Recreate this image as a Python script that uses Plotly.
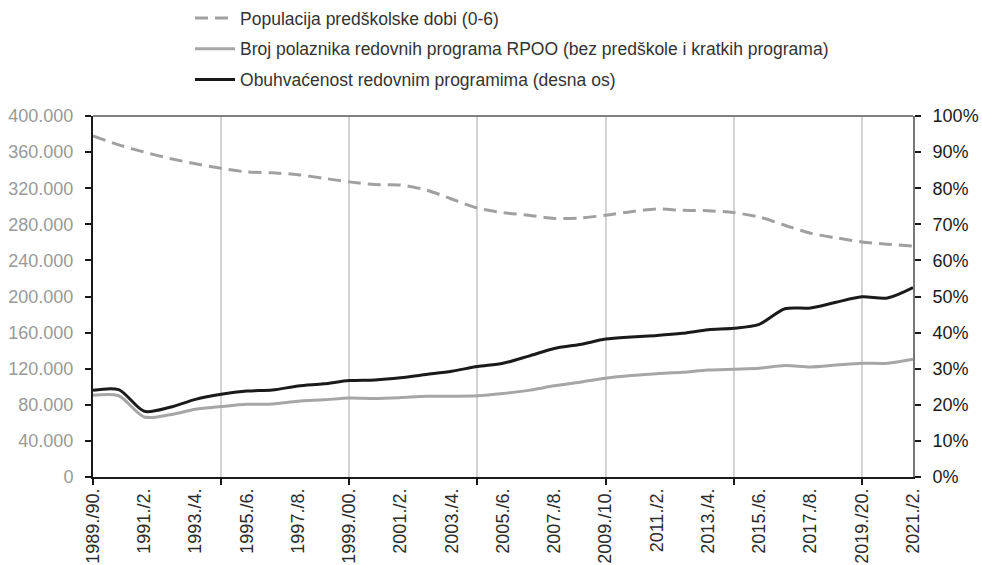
"""Obuhvat djece redovnim programima RPOO, 1989./90. - 2021./22."""
import plotly.graph_objects as go

# podaci očitani s grafa (33 pedagoške godine)
godine = [
    "1989./90.", "1990./1.", "1991./2.", "1992./3.", "1993./4.", "1994./5.",
    "1995./6.", "1996./7.", "1997./8.", "1998./9.", "1999./00.", "2000./1.",
    "2001./2.", "2002./3.", "2003./4.", "2004./5.", "2005./6.", "2006./7.",
    "2007./8.", "2008./9.", "2009./10.", "2010./1.", "2011./2.", "2012./3.",
    "2013./4.", "2014./5.", "2015./6.", "2016./7.", "2017./8.", "2018./9.",
    "2019./20.", "2020./1.", "2021./2.",
]
populacija = [
    378000, 368000, 360000, 353000, 347000, 342000, 338000, 337000, 335000,
    331000, 327000, 324000, 323500, 318000, 308000, 298000, 293000, 290000,
    286500, 287000, 290000, 294000, 297000, 295500, 295000, 293000, 288000,
    279000, 270000, 265000, 260500, 258000, 256000,
]
polaznici = [
    90500, 90000, 66500, 69000, 75000, 78000, 80500, 81000, 84000, 85500,
    87500, 87000, 88000, 89500, 89500, 90000, 92500, 96000, 101000, 105000,
    109500, 112500, 114500, 116000, 118500, 119500, 120500, 123500, 122000,
    124000, 126000, 126000, 130500,
]
obuhvat = [
    0.240, 0.242, 0.182, 0.193, 0.215, 0.229, 0.238, 0.241, 0.252, 0.258,
    0.267, 0.269, 0.275, 0.284, 0.293, 0.306, 0.315, 0.335, 0.356, 0.367,
    0.382, 0.388, 0.392, 0.398, 0.408, 0.412, 0.423, 0.466, 0.468, 0.484,
    0.499, 0.496, 0.525,
]
# horizontalne linije koje se vide na originalu
mreza_pct = [0.1, 0.2, 0.3, 0.5, 0.6, 0.9]

idx = list(range(len(godine)))
oznake_idx = idx[::2]
oznake = godine[::2]
crte_idx = idx[::5]

FONT = "Liberation Sans, Arial, sans-serif"

fig = go.Figure()
fig.add_trace(go.Scatter(
    x=idx, y=populacija, name="Populacija predškolske dobi (0-6)",
    mode="lines", line=dict(color="#a0a0a0", width=3, dash="13px,7px", shape="spline", smoothing=0.8),
    legendgroup="a",
))
fig.add_trace(go.Scatter(
    x=idx, y=polaznici,
    name="Broj polaznika redovnih programa RPOO (bez predškole i kratkih programa)",
    mode="lines", line=dict(color="#a6a6a6", width=3, shape="spline", smoothing=0.8),
    legendgroup="b",
))
# obuhvat ide na x2/y2 da bi se x2 (oznake godina) iscrtala
fig.add_trace(go.Scatter(
    x=idx, y=obuhvat, name="Obuhvaćenost redovnim programima (desna os)",
    mode="lines", line=dict(color="#1a1a1a", width=3, shape="spline", smoothing=0.8),
    xaxis="x2", yaxis="y2", legendgroup="c",
))

fig.update_layout(
    width=982, height=565,
    margin=dict(l=93, r=69, t=116, b=88, autoexpand=False),
    paper_bgcolor="white", plot_bgcolor="white",
    separators=",.",
    font=dict(family=FONT, size=18, color="#333333"),
    showlegend=True,
    legend=dict(
        xref="container", yref="container", x=0.1935, y=1.031, xanchor="left", yanchor="top",
        font=dict(family=FONT, size=17.5, color="#333333"),
        tracegroupgap=5, itemwidth=40, bgcolor="rgba(0,0,0,0)",
    ),
    # glavna x os: kvačice i okomita mreža svakih 5 godina
    xaxis=dict(
        domain=[0, 1], range=[0, idx[-1]], tickmode="array", tickvals=crte_idx, showticklabels=False,
        ticks="outside", ticklen=6, tickwidth=2, tickcolor="#1a1a1a",
        showgrid=True, gridcolor="#d3d3d3", gridwidth=2,
        showline=True, linecolor="#1a1a1a", linewidth=2, zeroline=False,
    ),
    # oznake godina svake druge godine
    xaxis2=dict(
        domain=[0, 1], overlaying="x", anchor="y2", side="bottom", range=[0, idx[-1]],
        tickmode="array", tickvals=oznake_idx, ticktext=oznake, tickangle=-90,
        ticks="", showgrid=False, showline=False, zeroline=False,
        ticklabelstandoff=7, tickfont=dict(size=18, color="#2b2b2b"),
    ),
    yaxis=dict(
        domain=[0, 1], range=[0, 400000], dtick=40000, tickformat=",d",
        ticks="outside", ticklen=6, tickwidth=2, tickcolor="#1a1a1a",
        showgrid=False, zeroline=False,
        showline=True, linecolor="#1a1a1a", linewidth=2,
        tickfont=dict(size=18, color="#999999"), ticklabelstandoff=8,
    ),
    yaxis2=dict(
        domain=[0, 1], overlaying="y", side="right", anchor="x2", range=[0, 1], dtick=0.1, tickformat=".0%",
        ticks="outside", ticklen=6, tickwidth=2, tickcolor="#1a1a1a",
        showgrid=False, zeroline=False,
        showline=True, linecolor="#777777", linewidth=2,
        tickfont=dict(size=18, color="#1a1a1a"), ticklabelstandoff=8,
    ),
    yaxis3=dict(
        domain=[0, 1], overlaying="y", anchor="x", range=[0, 1], tickmode="array", tickvals=mreza_pct,
        showticklabels=False, ticks="", showline=False, zeroline=False,
        showgrid=True, gridcolor="#1a1a1a", gridwidth=1,
    ),
)
# gornji rub okvira
fig.add_shape(type="line", xref="paper", yref="paper", x0=0, x1=1, y0=1, y1=1,
              line=dict(color="#808080", width=2))

# bez zadanog ruba stranice, da slika počne u (0, 0)
fig.write_html(
    "out.html",
    config={"displayModeBar": False},
    post_script="document.body.style.margin='0';",
)
